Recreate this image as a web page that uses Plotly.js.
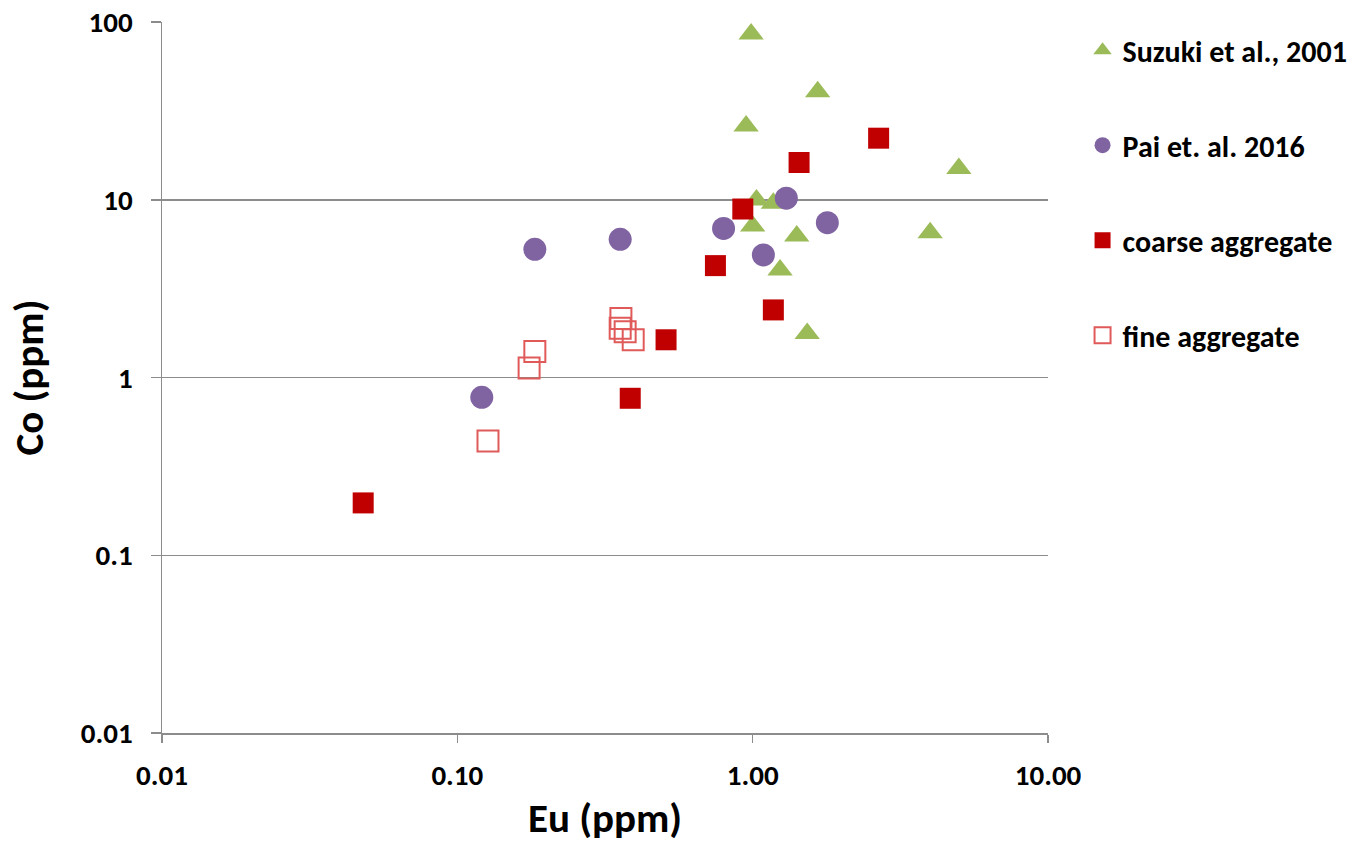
<!DOCTYPE html>
<html>
<head>
<meta charset="utf-8">
<script src="https://cdn.plot.ly/plotly-3.0.1.min.js"></script>
<style>html,body{margin:0;padding:0;background:#fff;}#chart{width:1365px;height:843px;}</style>
</head>
<body>
<div id="chart"></div>
<script>
// Suzuki et al., 2001
const suzukiEu = [0.988, 1.66, 0.950, 4.99, 1.03, 1.175, 1.00, 1.41, 3.99, 1.238, 1.53];
const suzukiCo = [85.6, 40.5, 26.0, 15.0, 9.97, 9.55, 7.12, 6.25, 6.53, 4.03, 1.77];
// Pai et. al. 2016
const paiEu = [0.121, 0.183, 0.356, 0.797, 1.087, 1.30, 1.79];
const paiCo = [0.774, 5.26, 5.99, 6.9, 4.89, 10.2, 7.43];
// coarse aggregate
const coarseEu = [2.67, 1.436, 0.926, 0.748, 1.175, 0.509, 0.385, 0.048];
const coarseCo = [22.2, 16.2, 8.87, 4.26, 2.40, 1.63, 0.764, 0.197];
// fine aggregate
const fineEu = [0.358, 0.356, 0.370, 0.394, 0.183, 0.175, 0.127];
const fineCo = [2.15, 1.89, 1.81, 1.63, 1.40, 1.13, 0.44];

const xTickVals = [0.01, 0.1, 1, 10];
const xTickText = ["0.01", "0.10", "1.00", "10.00"];
const yTickVals = [0.01, 0.1, 1, 10, 100];
const yTickText = ["0.01", "0.1", "1", "10", "100"];

const font = "Calibri, Carlito, 'Liberation Sans', 'DejaVu Sans', sans-serif";

const traces = [
  {x: suzukiEu, y: suzukiCo, name: "Suzuki et al., 2001", mode: "markers", type: "scatter", legendgroup: "a",
   marker: {symbol: "triangle-up", size: 22, color: "#9BBB59"}},
  {x: paiEu, y: paiCo, name: "Pai et. al. 2016", mode: "markers", type: "scatter", legendgroup: "b",
   marker: {symbol: "circle", size: 23, color: "#8064A2"}},
  {x: coarseEu, y: coarseCo, name: "coarse aggregate", mode: "markers", type: "scatter", legendgroup: "c",
   marker: {symbol: "square", size: 21, color: "#C00000"}},
  {x: fineEu, y: fineCo, name: "fine aggregate", mode: "markers", type: "scatter", legendgroup: "d",
   marker: {symbol: "square-open", size: 21, color: "#E05A5A", line: {width: 2, color: "#E05A5A"}}}
];

const layout = {
  width: 1365, height: 843,
  margin: {l: 162, r: 317, t: 22, b: 110},
  paper_bgcolor: "#fff", plot_bgcolor: "#fff",
  font: {family: font, color: "#000"},
  showlegend: true,
  legend: {x: 1.039, y: 0.997, xanchor: "left", yanchor: "top", tracegroupgap: 53,
           font: {size: 30, family: font, color: "#000", weight: "bold"}, bgcolor: "rgba(0,0,0,0)", itemsizing: "trace"},
  xaxis: {type: "log", range: [-2, 1], tickvals: xTickVals, ticktext: xTickText,
          showgrid: false, showline: true, linecolor: "#8c8c8c", linewidth: 1.5, zeroline: false,
          ticks: "outside", ticklen: 8, tickcolor: "#8c8c8c", tickwidth: 1.5, ticklabelstandoff: 8,
          tickfont: {size: 29, family: font, color: "#000", weight: "bold"},
          title: {text: "Eu (ppm)", font: {size: 41, family: font, color: "#000", weight: "bold"}, standoff: 12}},
  yaxis: {type: "log", range: [-2, 2], tickvals: yTickVals, ticktext: yTickText,
          showgrid: true, gridcolor: "#8c8c8c", gridwidth: 1.5, showline: true, linecolor: "#8c8c8c", linewidth: 1.5, zeroline: false,
          ticks: "outside", ticklen: 10, tickcolor: "#8c8c8c", tickwidth: 1.5, ticklabelstandoff: 12,
          tickfont: {size: 29, family: font, color: "#000", weight: "bold"},
          title: {text: "Co (ppm)", font: {size: 41, family: font, color: "#000", weight: "bold"}, standoff: 24}}
};

Plotly.newPlot("chart", traces, layout, {displayModeBar: false, staticPlot: true});
</script>
</body>
</html>
